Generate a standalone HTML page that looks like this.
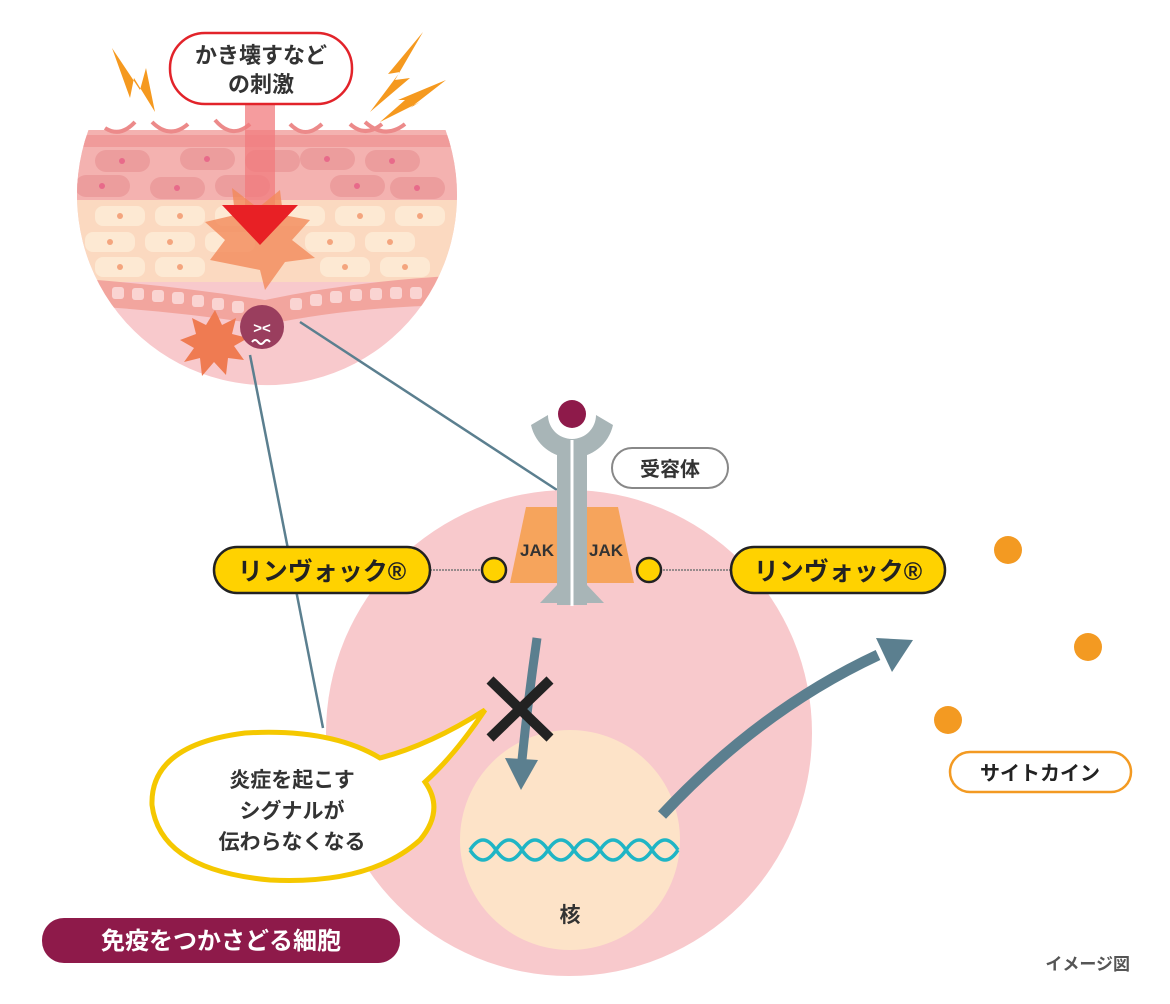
<!DOCTYPE html>
<html><head><meta charset="utf-8"><style>
html,body{margin:0;padding:0;background:#fff;}
svg{display:block;}
text{font-family:"Liberation Sans","Noto Sans CJK JP",sans-serif;font-weight:bold;}
</style></head><body>
<svg width="1170" height="1004" viewBox="0 0 1170 1004" xmlns="http://www.w3.org/2000/svg">
<defs>
<clipPath id="skin"><path d="M88.5,130 L445.5,130 A190,190 0 1 1 88.5,130 Z"/></clipPath>
</defs>
<!-- skin -->
<g clip-path="url(#skin)">
<rect x="70" y="120" width="400" height="280" fill="#f8c9cc"/>
<rect x="70" y="130" width="400" height="70" fill="#f4b2b0"/>
<rect x="70" y="135" width="400" height="12" fill="#f09b9a"/>
<g fill="#ec9d9d">
<rect x="95" y="150" width="55" height="22" rx="11"/><rect x="180" y="148" width="55" height="22" rx="11"/><rect x="245" y="150" width="55" height="22" rx="11"/><rect x="300" y="148" width="55" height="22" rx="11"/><rect x="365" y="150" width="55" height="22" rx="11"/>
<rect x="75" y="175" width="55" height="22" rx="11"/><rect x="150" y="177" width="55" height="22" rx="11"/><rect x="215" y="175" width="55" height="22" rx="11"/><rect x="330" y="175" width="55" height="22" rx="11"/><rect x="390" y="177" width="55" height="22" rx="11"/>
</g>
<g fill="#e86a8a">
<circle cx="122" cy="161" r="3"/><circle cx="207" cy="159" r="3"/><circle cx="327" cy="159" r="3"/><circle cx="392" cy="161" r="3"/><circle cx="102" cy="186" r="3"/><circle cx="177" cy="188" r="3"/><circle cx="357" cy="186" r="3"/><circle cx="417" cy="188" r="3"/>
</g>
<rect x="70" y="200" width="400" height="82" fill="#fbd9c0"/>
<g fill="#fde9d3">
<rect x="95" y="206" width="50" height="20" rx="8"/><rect x="155" y="206" width="50" height="20" rx="8"/><rect x="215" y="206" width="50" height="20" rx="8"/><rect x="275" y="206" width="50" height="20" rx="8"/><rect x="335" y="206" width="50" height="20" rx="8"/><rect x="395" y="206" width="50" height="20" rx="8"/>
<rect x="85" y="232" width="50" height="20" rx="8"/><rect x="145" y="232" width="50" height="20" rx="8"/><rect x="205" y="232" width="50" height="20" rx="8"/><rect x="305" y="232" width="50" height="20" rx="8"/><rect x="365" y="232" width="50" height="20" rx="8"/>
<rect x="95" y="257" width="50" height="20" rx="8"/><rect x="155" y="257" width="50" height="20" rx="8"/><rect x="320" y="257" width="50" height="20" rx="8"/><rect x="380" y="257" width="50" height="20" rx="8"/>
</g>
<g fill="#f4a57e">
<circle cx="120" cy="216" r="3"/><circle cx="180" cy="216" r="3"/><circle cx="360" cy="216" r="3"/><circle cx="420" cy="216" r="3"/><circle cx="110" cy="242" r="3"/><circle cx="170" cy="242" r="3"/><circle cx="330" cy="242" r="3"/><circle cx="390" cy="242" r="3"/><circle cx="120" cy="267" r="3"/><circle cx="180" cy="267" r="3"/><circle cx="345" cy="267" r="3"/><circle cx="405" cy="267" r="3"/>
</g>
<path d="M70,278 Q170,285 265,300 Q360,280 470,275 L470,305 Q360,305 265,325 Q170,310 70,305 Z" fill="#f2a59e"/>
<g fill="#fad4d2">
<rect x="112" y="287" width="12" height="12" rx="3"/><rect x="132" y="288" width="12" height="12" rx="3"/><rect x="152" y="290" width="12" height="12" rx="3"/><rect x="172" y="292" width="12" height="12" rx="3"/><rect x="192" y="295" width="12" height="12" rx="3"/><rect x="212" y="298" width="12" height="12" rx="3"/><rect x="232" y="301" width="12" height="12" rx="3"/><rect x="290" y="298" width="12" height="12" rx="3"/><rect x="310" y="294" width="12" height="12" rx="3"/><rect x="330" y="291" width="12" height="12" rx="3"/><rect x="350" y="289" width="12" height="12" rx="3"/><rect x="370" y="288" width="12" height="12" rx="3"/><rect x="390" y="287" width="12" height="12" rx="3"/><rect x="410" y="287" width="12" height="12" rx="3"/>
</g>
</g>
<g fill="none" stroke="#ec8a8a" stroke-width="4">
<path d="M105,128 Q120,138 135,122"/><path d="M152,122 Q170,140 188,124"/><path d="M215,120 Q232,140 250,124"/><path d="M290,124 Q305,140 322,124"/><path d="M350,124 Q365,138 382,124"/><path d="M365,122 Q385,140 405,124"/>
</g>
<!-- stimulus arrow -->
<rect x="245" y="95" width="30" height="120" fill="#f27b7d" opacity="0.75"/>
<polygon points="260,270 210,260 225,240 205,222 235,215 232,188 258,208 280,190 283,215 310,220 292,240 315,258 285,262 265,290" fill="#f28a5a" opacity="0.8"/>
<polygon points="222,205 298,205 260,245" fill="#e82025"/>
<!-- lightning -->
<polygon points="112,48 140,90 146,68 155,112 134,78 130,98" fill="#f5991f"/>
<polygon points="423,32 395,80 410,78 370,112 400,72 388,74" fill="#f5991f"/>
<polygon points="446,80 410,108 420,102 380,122 405,100 398,100" fill="#f5991f"/>
<rect x="170" y="33" width="182" height="71" rx="35" fill="#fff" stroke="#e2232a" stroke-width="2.5"/>
<text x="261" y="63" font-size="22" fill="#333" text-anchor="middle">かき壊すなど</text>
<text x="261" y="92" font-size="22" fill="#333" text-anchor="middle">の刺激</text>
<!-- starburst and face -->
<polygon points="215,310 222,325 236,318 232,334 248,338 234,346 244,360 228,358 226,375 214,362 202,376 200,358 184,362 194,348 180,340 196,334 192,318 206,325" fill="#ef7b52"/>
<circle cx="262" cy="327" r="22" fill="#9a3e5e"/>
<text x="262" y="333" font-size="15" fill="#fff" text-anchor="middle">&gt;&lt;</text>
<path d="M252,342 q3,-4 6,0 q3,4 6,0 q3,-4 6,0" stroke="#fff" stroke-width="2" fill="none"/>
<!-- lines -->
<line x1="300" y1="322" x2="557" y2="490" stroke="#5b7f8f" stroke-width="2.5"/>
<line x1="250" y1="355" x2="323" y2="728" stroke="#5b7f8f" stroke-width="2.5"/>
<!-- cell -->
<circle cx="569" cy="733" r="243" fill="#f8c9cc"/>
<circle cx="570" cy="840" r="110" fill="#fde3c8"/>
<path d="M470,850 q13,-20 26,0 t26,0 t26,0 t26,0 t26,0 t26,0 t26,0 t26,0" fill="none" stroke="#1fb5c5" stroke-width="3.5"/>
<path d="M470,850 q13,20 26,0 t26,0 t26,0 t26,0 t26,0 t26,0 t26,0 t26,0" fill="none" stroke="#1fb5c5" stroke-width="3.5"/>
<text x="570" y="922" font-size="21" fill="#333" text-anchor="middle">核</text>
<!-- receptor -->
<polygon points="526,507 560,507 560,583 510,583" fill="#f6a45c"/>
<polygon points="584,507 618,507 634,583 584,583" fill="#f6a45c"/>
<path d="M531,425 L548,415 A24,24 0 0 0 596,415 L613,425 A42,42 0 0 1 531,425 Z" fill="#a8b5b7"/>
<rect x="557" y="440" width="30" height="165" fill="#a8b5b7"/>
<polygon points="557,585 540,603 557,603" fill="#a8b5b7"/>
<polygon points="587,585 604,603 587,603" fill="#a8b5b7"/>
<line x1="572" y1="440" x2="572" y2="606" stroke="#fff" stroke-width="3"/>
<circle cx="572" cy="414" r="14" fill="#8e1a4a"/>
<text x="537" y="556" font-size="17" fill="#333" font-weight="normal" text-anchor="middle">JAK</text>
<text x="606" y="556" font-size="17" fill="#333" font-weight="normal" text-anchor="middle">JAK</text>
<rect x="612" y="448" width="116" height="40" rx="20" fill="#fff" stroke="#888" stroke-width="2"/>
<text x="670" y="476" font-size="20" fill="#333" text-anchor="middle">受容体</text>
<!-- Rinvoq -->
<line x1="430" y1="570" x2="482" y2="570" stroke="#777" stroke-width="1.5" stroke-dasharray="2,1"/>
<line x1="660" y1="570" x2="730" y2="570" stroke="#777" stroke-width="1.5" stroke-dasharray="2,1"/>
<circle cx="494" cy="570" r="12" fill="#ffd200" stroke="#222" stroke-width="2.5"/>
<circle cx="649" cy="570" r="12" fill="#ffd200" stroke="#222" stroke-width="2.5"/>
<rect x="214" y="547" width="216" height="46" rx="23" fill="#ffd200" stroke="#222" stroke-width="2.5"/>
<text x="322" y="580" font-size="25" fill="#222" text-anchor="middle">リンヴォック®</text>
<rect x="731" y="547" width="214" height="46" rx="23" fill="#ffd200" stroke="#222" stroke-width="2.5"/>
<text x="838" y="580" font-size="25" fill="#222" text-anchor="middle">リンヴォック®</text>
<!-- arrows -->
<path d="M537,638 Q528,700 522,760" fill="none" stroke="#5b7f8f" stroke-width="9"/>
<polygon points="505,758 538,760 521,790" fill="#5b7f8f"/>
<path d="M662,815 Q760,710 878,655" fill="none" stroke="#5b7f8f" stroke-width="11"/>
<polygon points="876,638 913,640 892,672" fill="#5b7f8f"/>
<path d="M490,680 L550,738 M550,680 L490,738" stroke="#222" stroke-width="10"/>
<!-- bubble -->
<path d="M380,758 Q430,745 485,710 Q455,755 425,782 Q445,810 420,840 Q370,885 270,880 Q160,870 152,805 Q150,745 245,733 Q330,728 380,758 Z" fill="#fff" stroke="#f5c800" stroke-width="5"/>
<text x="292" y="787" font-size="21" fill="#333" text-anchor="middle">炎症を起こす</text>
<text x="292" y="818" font-size="21" fill="#333" text-anchor="middle">シグナルが</text>
<text x="292" y="849" font-size="21" fill="#333" text-anchor="middle">伝わらなくなる</text>
<rect x="42" y="918" width="358" height="45" rx="22" fill="#8e1a4a"/>
<text x="221" y="949" font-size="24" fill="#fff" text-anchor="middle">免疫をつかさどる細胞</text>
<!-- cytokines -->
<circle cx="1008" cy="550" r="14" fill="#f39a22"/>
<circle cx="1088" cy="647" r="14" fill="#f39a22"/>
<circle cx="948" cy="720" r="14" fill="#f39a22"/>
<rect x="950" y="752" width="181" height="40" rx="20" fill="#fff" stroke="#f39a22" stroke-width="2.5"/>
<text x="1040" y="780" font-size="20" fill="#222" text-anchor="middle">サイトカイン</text>
<text x="1130" y="970" font-size="17" fill="#555" font-weight="normal" text-anchor="end">イメージ図</text>
</svg>
</body></html>
